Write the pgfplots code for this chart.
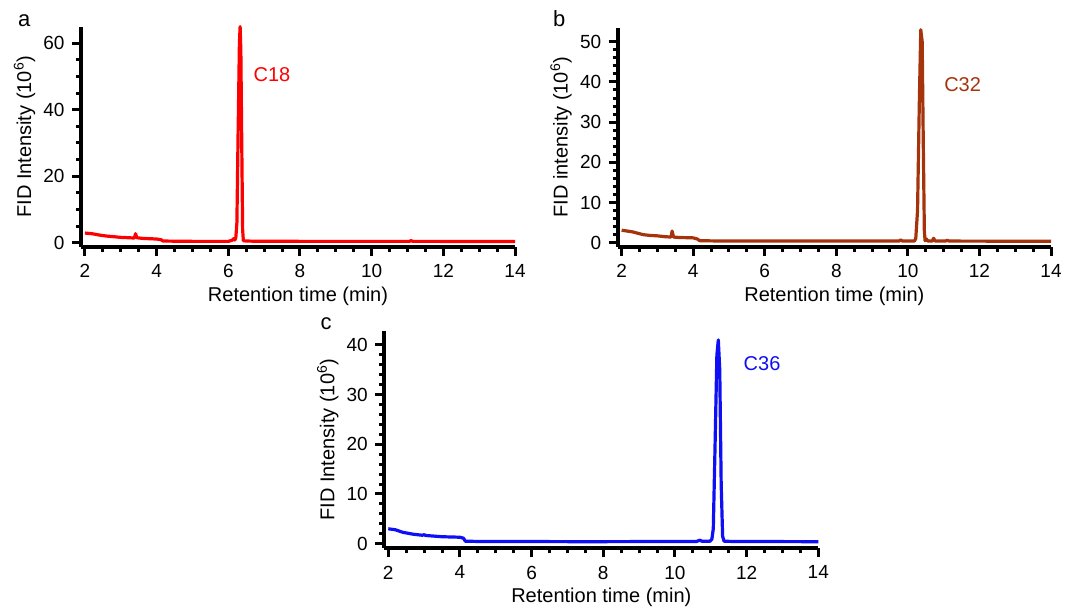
\documentclass[border=0pt]{standalone}
\usepackage{fontspec}
\setmainfont{Liberation Sans}
\usepackage{pgfplots}
\pgfplotsset{compat=1.18}
\definecolor{cA}{RGB}{255,0,0}
\definecolor{cB}{RGB}{165,52,12}
\definecolor{cC}{RGB}{15,15,245}
\pgfplotsset{
  gc/.style={
    scale only axis,
    axis x line=bottom, axis y line=left,
    xmin=1.89, xmax=14,
    xtick={2,4,...,14},
    minor x tick num=3,
    tick align=outside,
    major tick length=9bp, minor tick length=5bp,
    tick label style={font=\fontsize{19bp}{22bp}\selectfont},
    xticklabel shift={5bp},
    yticklabel shift={4bp},
    label style={font=\fontsize{20bp}{24bp}\selectfont},
    /pgf/number format/assume math mode=true,
    xlabel={Retention time (min)},
    xlabel style={at={(axis description cs:0.5,-0.225)}, anchor=center},
    ylabel style={at={(axis description cs:-0.13,0.5)}, anchor=center},
    clip=false,
  },
  dl/.style={line width=3.2bp, line join=round, mark=none},
}
\begin{document}
\begin{tikzpicture}
\useasboundingbox (0,0) rectangle (1068bp,-611bp);
% panel a
\begin{axis}[gc, at={(81bp,-247bp)}, anchor=south west,
  width=434bp, height=220.3bp,
  ymin=-1.3, ymax=65, ytick={0,20,40,60}, minor y tick num=3,
  axis line style={draw=black, line width=4bp, -},
  tick style={draw=black, line width=3bp},
  ylabel={FID Intensity (10\textsuperscript{6})}]
\addplot[dl, cA] coordinates {
(2.0,2.9) (2.2,2.7) (2.4,2.3) (2.6,2.0) (2.8,1.8) (3.0,1.6) (3.2,1.5) (3.38,1.4)
(3.41,2.7) (3.45,1.5) (3.6,1.3) (3.8,1.2) (4.0,1.1) (4.12,0.9) (4.18,0.5)
(4.5,0.45) (5.0,0.4) (6.0,0.4) (6.1,0.7) (6.15,1.2) (6.18,0.8) (6.21,1.5)
(6.24,6) (6.27,30) (6.31,60) (6.33,65) (6.35,58) (6.38,25) (6.40,4) (6.42,0.6)
(6.5,0.5) (6.7,0.45) (8,0.4) (11.05,0.4) (11.1,0.6) (11.15,0.4) (14,0.35)};
\node[font=\fontsize{20bp}{24bp}\selectfont, text=cA] at (axis cs:7.22,50.5) {C18};
\node[font=\fontsize{22bp}{26bp}\selectfont] at (axis description cs:-0.131,1.026) {a};
\end{axis}
% panel b
\begin{axis}[gc, at={(617.7bp,-246.7bp)}, anchor=south west,
  width=433.3bp, height=219bp,
  ymin=-1.0, ymax=53.5, ytick={0,10,...,50}, minor y tick num=4,
  axis line style={draw=black, line width=4bp, -},
  tick style={draw=black, line width=3bp},
  ylabel={FID intensity (10\textsuperscript{6})},
  ylabel style={at={(axis description cs:-0.131,0.5)}}]
\addplot[dl, cB] coordinates {
(2.0,3.1) (2.3,2.7) (2.6,2.0) (2.8,1.8) (3.0,1.7) (3.2,1.5) (3.38,1.4)
(3.41,2.9) (3.45,1.4) (3.6,1.3) (3.8,1.25) (4.0,1.2) (4.12,0.9) (4.18,0.5)
(4.5,0.45) (5.0,0.4) (7,0.4) (9.75,0.4) (9.8,0.7) (9.85,0.4) (10.18,0.4)
(10.22,1.0) (10.27,8) (10.32,35) (10.36,53) (10.40,50) (10.43,25) (10.46,3)
(10.48,0.5) (10.52,0.9) (10.56,0.4) (10.68,0.4) (10.72,1.1) (10.76,0.4)
(11.05,0.4) (11.1,0.6) (11.15,0.4) (14,0.35)};
\node[font=\fontsize{20bp}{24bp}\selectfont, text=cB] at (axis cs:11.53,39.4) {C32};
\node[font=\fontsize{22bp}{26bp}\selectfont] at (axis description cs:-0.135,1.04) {b};
\end{axis}
% panel c
\begin{axis}[gc, at={(384.3bp,-548.3bp)}, anchor=south west,
  width=434bp, height=217.3bp,
  ymin=-0.93, ymax=42.8, ytick={0,10,...,40}, minor y tick num=4,
  axis line style={draw=black, line width=4bp, -},
  tick style={draw=black, line width=3bp},
  ylabel={FID Intensity (10\textsuperscript{6})}]
\addplot[dl, cC] coordinates {
(2.0,3.0) (2.2,2.8) (2.4,2.3) (2.7,1.9) (2.95,1.7) (3.0,1.8) (3.05,1.65) (3.5,1.4)
(4.0,1.3) (4.1,1.1) (4.15,0.5) (4.5,0.45) (5.0,0.45) (7.5,0.4) (10.6,0.45)
(10.7,0.7) (10.75,0.5) (10.98,0.5) (11.03,0.9) (11.07,3) (11.12,20) (11.17,38)
(11.21,41) (11.25,35) (11.29,12) (11.33,1.5) (11.37,0.5) (11.6,0.45) (14,0.4)};
\node[font=\fontsize{20bp}{24bp}\selectfont, text=cC] at (axis cs:12.43,36.3) {C36};
\node[font=\fontsize{22bp}{26bp}\selectfont] at (axis description cs:-0.134,1.032) {c};
\end{axis}
\end{tikzpicture}
\end{document}
